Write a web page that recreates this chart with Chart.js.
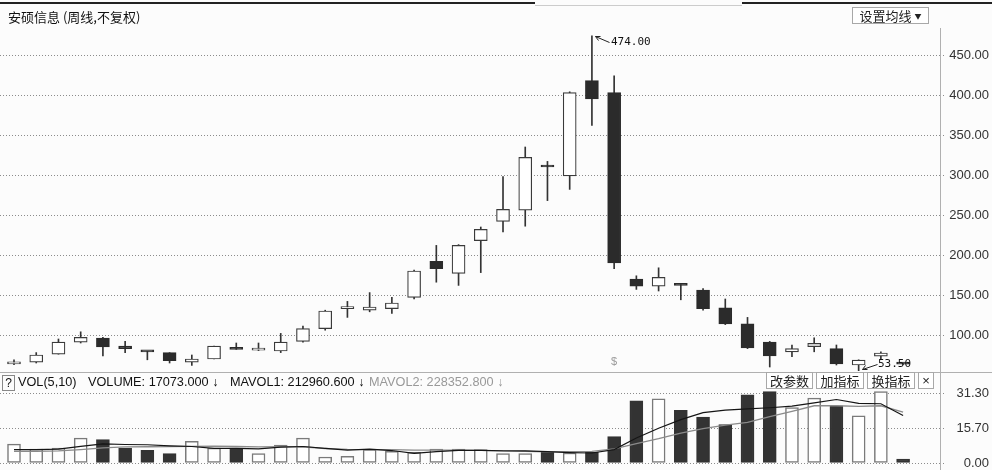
<!DOCTYPE html>
<html>
<head>
<meta charset="utf-8">
<script src="https://cdn.jsdelivr.net/npm/chart.js@4.4.0/dist/chart.umd.min.js"></script>
<style>
  body { margin: 0; width: 992px; height: 470px; overflow: hidden; background: #fcfcfc; position: relative;
         font-family: "Liberation Sans", Arial, sans-serif; color: #111; }
  canvas { position: absolute; left: 0; }
  #main { top: 0; }
  #vol { top: 372px; }
  .abs { position: absolute; white-space: nowrap; }
  .cjk { font-family: "Noto Sans CJK SC", sans-serif; }
  .btn { position: absolute; border: 1px solid #a8a8a8; background: #fff; font: 13px/15px "Noto Sans CJK SC", sans-serif;
         color: #222; text-align: center; box-sizing: border-box; }
  .hdr { position: absolute; top: 375px; font-size: 12.7px; line-height: 15px; white-space: nowrap; }
</style>
</head>
<body>
<canvas id="main" width="992" height="372"></canvas>
<canvas id="vol" width="992" height="98"></canvas>

<div class="abs" style="left:0;top:2px;width:535px;height:2px;background:#222"></div>
<div class="abs" style="left:535px;top:5px;width:207px;height:1px;background:#ccc"></div>
<div class="abs" style="left:742px;top:2px;width:250px;height:2px;background:#222"></div>
<div class="abs" style="left:940px;top:28px;width:1px;height:442px;background:#b0b0b0"></div>
<div class="abs" style="left:0;top:372px;width:992px;height:1px;background:#b0b0b0"></div>

<div class="abs cjk" style="left:8px;top:8px;font-size:13px;line-height:17px">安硕信息&nbsp;(周线,不复权)</div>
<div class="btn" style="left:852px;top:7px;width:77px;height:17px">设置均线 <span style="font-size:7px;vertical-align:2px">▼</span></div>

<div class="abs" style="left:2px;top:375px;width:11px;height:14px;border:1px solid #888;font-size:12px;line-height:14px;text-align:center">?</div>
<div class="hdr" style="left:18px">VOL(5,10)</div>
<div class="hdr" id="hVol" style="left:88px"></div>
<div class="hdr" id="hMa1" style="left:230px"></div>
<div class="hdr" id="hMa2" style="left:369px;color:#999"></div>
<div class="btn" style="left:766px;top:372px;width:47px;height:17px">改参数</div>
<div class="btn" style="left:816px;top:372px;width:48px;height:17px">加指标</div>
<div class="btn" style="left:867px;top:372px;width:48px;height:17px">换指标</div>
<div class="btn" style="left:918px;top:372px;width:16px;height:17px;font-family:'Liberation Sans'">×</div>

<script>
// weekly bars, oldest first
const weeks = [1, 2, 3, 4, 5, 6, 7, 8, 9, 10, 11, 12, 13, 14, 15, 16, 17, 18, 19, 20,
  21, 22, 23, 24, 25, 26, 27, 28, 29, 30, 31, 32, 33, 34, 35, 36, 37, 38, 39, 40, 41];

const opens  = [64, 66, 76, 91, 96, 86, 79.5, 78, 66, 70, 82.5, 81, 80, 92, 108, 133, 131, 133, 147, 192,
  177, 218, 242, 256, 312, 299, 418, 403, 170, 161, 162.5, 156, 134, 114, 91, 79, 85.5, 83, 62.5, 73.5, 63.8];
const closes = [66, 75, 91, 97, 85, 83, 79, 68, 70, 86, 82, 82, 91, 108, 130, 133.5, 135, 140, 180, 183,
  212, 232, 257, 322, 310, 403, 395, 190, 161, 172, 162, 133, 114, 84, 74, 83, 89.5, 64, 68.5, 77.5, 63.5];
const highs  = [69, 78, 95, 104, 97, 92, 79.5, 78, 75, 86, 90, 90, 102, 111, 131, 142, 153, 147, 181, 212,
  213, 235, 298, 335, 317, 404, 474, 424, 174, 184, 163, 158, 145, 122, 92, 87.5, 96.5, 87.5, 69, 79, 64];
const lows   = [63, 65, 76, 90, 74, 78, 69, 65, 62, 70, 82, 80.5, 78, 91, 106, 122, 129, 127, 145, 166,
  162, 178, 229, 236, 268, 282, 362, 183, 157, 155, 144, 131, 113, 83, 60, 73, 79, 62.5, 53.5, 70, 63.3];

// volume in units of 10,000
const volumes = [8.5, 6.2, 6.7, 11.2, 10.5, 6.7, 5.7, 4.2, 9.7, 6.7, 6.7, 4.2, 8.0, 11.2, 2.7, 3.0, 6.0, 5.2, 4.8, 6.3,
  6.3, 6.0, 4.2, 4.2, 4.8, 4.5, 4.8, 11.9, 27.9, 28.8, 23.6, 20.6, 17.2, 30.6, 32.1, 24.9, 29.1, 25.7, 21.2, 32.1, 1.7073];
const mavol1 = [6.0, 6.0, 6.2, 7.5, 8.6, 8.3, 8.2, 7.7, 7.4, 6.6, 6.6, 6.3, 7.1, 7.4, 6.6, 5.8, 6.2, 5.6, 4.3, 5.1,
  5.7, 5.7, 5.5, 5.4, 5.1, 4.7, 4.5, 6.0, 11.2, 15.6, 19.5, 22.6, 23.7, 24.3, 24.8, 25.5, 27.0, 28.5, 26.8, 26.6, 21.29606];
const mavol2 = [5.2, 5.2, 5.4, 6.0, 6.8, 7.2, 7.3, 7.4, 7.5, 7.6, 7.4, 7.2, 7.3, 7.3, 6.5, 6.1, 6.0, 6.0, 5.8, 5.8,
  5.8, 5.7, 5.3, 5.2, 5.0, 5.1, 5.2, 6.3, 8.7, 10.9, 13.4, 15.4, 17.0, 18.2, 20.8, 23.2, 25.7, 25.7, 25.4, 25.7, 22.83528];

const priceTicks = [100, 150, 200, 250, 300, 350, 400, 450];
const volTicks = [0, 15.7, 31.3];
const dividendWeek = 28;

const DARK = '#2b2b2b';
const xScale = { type: 'linear', display: false, offset: false, min: -0.63, max: 41.66 };

function rightAxis(min, max, list) {
  return {
    position: 'right', min, max,
    afterFit(s) { s.width = 49; s.paddingTop = 0; s.paddingBottom = 0; },
    afterBuildTicks(s) { s.ticks = list.map(v => ({ value: v })); },
    border: { display: false, dash: [1, 2] },
    grid: { color: '#8c8c8c', tickLength: 5, tickBorderDash: [1, 2] },
    ticks: { crossAlign: 'far', padding: 4, color: '#333', font: { family: 'Liberation Sans', size: 13 },
             callback: v => Number(v).toFixed(2) }
  };
}

const marks = {
  id: 'marks',
  afterDatasetsDraw(chart) {
    const { ctx, scales: { x, y } } = chart;
    ctx.save();
    ctx.strokeStyle = '#222';
    ctx.fillStyle = '#111';
    ctx.lineWidth = 1;
    ctx.font = '11px "DejaVu Sans Mono"';
    ctx.textBaseline = 'middle';

    const hi = Math.max(...highs), ih = highs.indexOf(hi);
    let px = Math.round(x.getPixelForValue(ih)), py = Math.round(y.getPixelForValue(hi));
    ctx.beginPath();
    ctx.moveTo(px + 3.5, py + 0.5); ctx.lineTo(px + 17.5, py + 6.5);
    ctx.moveTo(px + 3.5, py + 0.5); ctx.lineTo(px + 8.5, py + 0.5);
    ctx.moveTo(px + 3.5, py + 0.5); ctx.lineTo(px + 6.5, py + 4.5);
    ctx.stroke();
    ctx.fillText(hi.toFixed(2), px + 19, py + 6);

    const lo = Math.min(...lows), il = lows.indexOf(lo);
    px = Math.round(x.getPixelForValue(il)); py = Math.round(y.getPixelForValue(lo));
    ctx.beginPath();
    ctx.moveTo(px + 3.5, py - 2.5); ctx.lineTo(px + 18.5, py - 7.5);
    ctx.moveTo(px + 3.5, py - 2.5); ctx.lineTo(px + 8.5, py - 2.5);
    ctx.moveTo(px + 3.5, py - 2.5); ctx.lineTo(px + 6.5, py - 6.5);
    ctx.stroke();
    ctx.fillText(lo.toFixed(2), px + 19, py - 8);

    ctx.fillStyle = '#999';
    ctx.textAlign = 'center';
    ctx.font = '11px "Liberation Sans"';
    ctx.fillText('$', x.getPixelForValue(weeks.indexOf(dividendWeek)), chart.chartArea.bottom - 9);
    ctx.restore();
  }
};

new Chart(document.getElementById('main'), {
  type: 'bar',
  data: {
    datasets: [
      {
        label: 'wick', order: 2, grouped: false, barThickness: 1,
        data: weeks.map((w, i) => ({ x: i, y: [lows[i], highs[i]] })),
        backgroundColor: '#333', borderWidth: 0
      },
      {
        label: 'body', order: 1, grouped: false, barThickness: 13, minBarLength: 2,
        data: weeks.map((w, i) => ({ x: i, y: [opens[i], closes[i]] })),
        backgroundColor: weeks.map((w, i) => closes[i] >= opens[i] ? '#ffffff' : DARK),
        borderColor: weeks.map((w, i) => closes[i] >= opens[i] ? '#3a3a3a' : DARK),
        borderWidth: 1.2, borderSkipped: false
      }
    ]
  },
  options: {
    responsive: false, animation: false,
    layout: { padding: { top: 20, bottom: 1, right: 3, left: 0 } },
    plugins: { legend: { display: false }, tooltip: { enabled: false } },
    scales: { x: xScale, y: rightAxis(55, 493.75, priceTicks) }
  },
  plugins: [marks]
});

const volUp = weeks.map((w, i) => i === 0 || closes[i] >= closes[i - 1]);

new Chart(document.getElementById('vol'), {
  type: 'bar',
  data: {
    datasets: [
      {
        type: 'line', label: 'MAVOL1', order: 1, data: weeks.map((w, i) => ({ x: i, y: mavol1[i] })),
        borderColor: '#151515', borderWidth: 1.2, pointRadius: 0, tension: 0
      },
      {
        type: 'line', label: 'MAVOL2', order: 2, data: weeks.map((w, i) => ({ x: i, y: mavol2[i] })),
        borderColor: '#8a8a8a', borderWidth: 1.3, pointRadius: 0, tension: 0
      },
      {
        label: 'VOLUME', order: 3, barThickness: 13,
        data: weeks.map((w, i) => ({ x: i, y: volumes[i] })),
        backgroundColor: volUp.map(u => u ? '#ffffff' : '#333333'),
        borderColor: volUp.map(u => u ? '#7a7a7a' : '#333333'),
        borderWidth: 1.5, borderSkipped: false
      }
    ]
  },
  options: {
    responsive: false, animation: false,
    layout: { padding: { top: 19, bottom: 7, right: 3, left: 0 } },
    plugins: { legend: { display: false }, tooltip: { enabled: false } },
    scales: { x: xScale, y: rightAxis(0, 32.33, volTicks) }
  }
});

const n = weeks.length - 1;
document.getElementById('hVol').textContent = 'VOLUME: ' + (volumes[n] * 10000).toFixed(3) + ' \u2193';
document.getElementById('hMa1').textContent = 'MAVOL1: ' + (mavol1[n] * 10000).toFixed(3) + ' \u2193';
document.getElementById('hMa2').textContent = 'MAVOL2: ' + (mavol2[n] * 10000).toFixed(3) + ' \u2193';
</script>
</body>
</html>
